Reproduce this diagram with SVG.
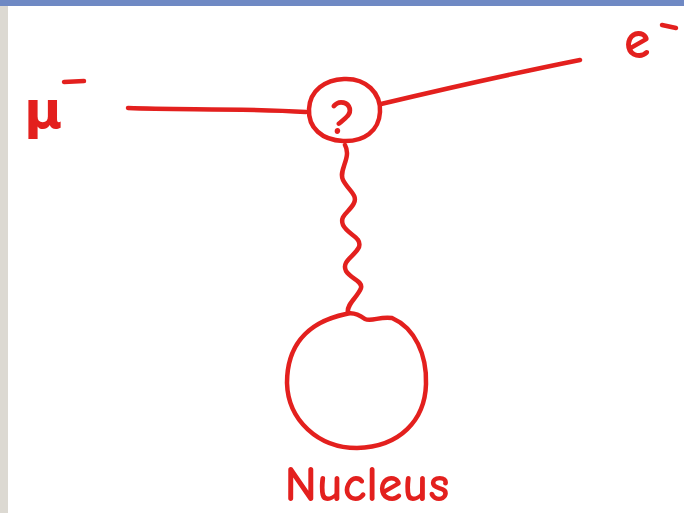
<svg xmlns="http://www.w3.org/2000/svg" width="684" height="513" viewBox="0 0 684 513">
<style>
.ink{fill:none;stroke:#e3201e;stroke-width:4.5;stroke-linecap:round;stroke-linejoin:round}
.lbl{fill:#e3201e;font-family:"Comic Neue","DejaVu Sans","Liberation Sans",sans-serif;font-weight:bold}
</style>
<rect width="684" height="513" fill="#ffffff"/>
<rect x="0" y="0" width="8" height="513" fill="#dcd9d2"/>
<rect x="0" y="0" width="684" height="6" fill="#6f89c4"/>
<g id="connectors">
<path class="ink" d="M128,108 C180,110 240,108 306,112"/>
<path class="ink" d="M381,104 C440,90 520,72 580,60"/>
<path class="ink" d="M345,145 C352,158 338,170 343,180 C348,190 358,195 354,203 C350,212 339,215 343,225 C348,235 362,237 359,247 C355,256 341,261 346,271 C351,279 363,281 361,288 C358,297 346,304 348,313"/>
</g>
<g id="vertex">
<path class="ink" d="M344,79 C366,78 381,93 380,112 C379,131 364,142 343,141 C322,140 308,128 309,109 C310,90 325,80 344,79 Z"/>
<text class="lbl" x="343" y="134" font-size="50" text-anchor="middle">?</text>
</g>
<g id="nucleus">
<path class="ink" d="M346,314 C352,312 358,314 365,319 C372,322 380,316 392,318 C415,328 427,355 426,384 C425,420 400,447 357,448 C318,448 288,420 287,383 C287,350 303,323 346,314 Z"/>
<text class="lbl" x="367" y="501" font-size="50" text-anchor="middle" textLength="165" lengthAdjust="spacingAndGlyphs">Nucleus</text>
</g>
<g id="muon">
<text class="lbl" x="24" y="128" font-size="52">μ</text>
<path class="ink" d="M64,82 L84,81"/>
</g>
<g id="electron">
<text class="lbl" x="624" y="58" font-size="54">e</text>
<path class="ink" d="M662,25 L676,28"/>
</g>
</svg>
